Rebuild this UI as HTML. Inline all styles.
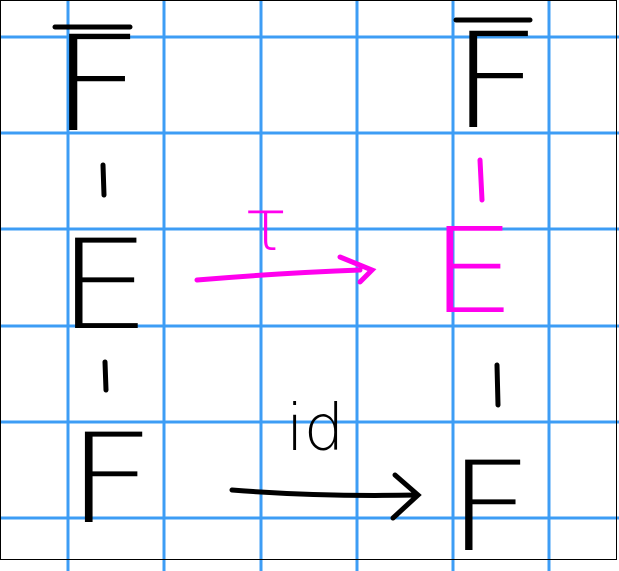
<!DOCTYPE html>
<html><head><meta charset="utf-8"><style>
html,body{margin:0;padding:0;background:#fff;}
svg{display:block;}
text{font-family:"DejaVu Sans ExtraLight","DejaVu Sans","Liberation Sans",sans-serif;font-weight:200;}
</style></head><body>
<svg width="619" height="571" viewBox="0 0 619 571">
<g stroke="#3d9df5" stroke-width="3">
<line x1="68" y1="0" x2="68" y2="571"/><line x1="164" y1="0" x2="164" y2="571"/>
<line x1="261" y1="0" x2="261" y2="571"/><line x1="357" y1="0" x2="357" y2="571"/>
<line x1="453" y1="0" x2="453" y2="571"/><line x1="549" y1="0" x2="549" y2="571"/>
<line x1="0" y1="37" x2="619" y2="37"/><line x1="0" y1="133" x2="619" y2="133"/>
<line x1="0" y1="229" x2="619" y2="229"/><line x1="0" y1="326" x2="619" y2="326"/>
<line x1="0" y1="422" x2="619" y2="422"/><line x1="0" y1="518" x2="619" y2="518"/>
</g>
<rect x="0.5" y="0.5" width="616" height="559" fill="none" stroke="#000" stroke-width="1"/>
<g stroke="#000" stroke-width="5" stroke-linecap="round" fill="none">
<line x1="55" y1="27" x2="130" y2="27"/>
<line x1="456" y1="20" x2="530" y2="20"/>
<line x1="103" y1="165" x2="104" y2="195"/>
<line x1="105" y1="362" x2="106" y2="390"/>
<line x1="497" y1="365" x2="498" y2="405"/>
<path d="M232 490 Q320 497 418 495 M395 475 L418 495 L393 518"/>
</g>
<g stroke="#ff00ee" stroke-width="5" stroke-linecap="round" fill="none">
<line x1="480" y1="160" x2="482" y2="200"/>
<path d="M197 280 Q280 273 360 270 M340 257 L372 270 L360 282"/>
</g>
<text transform="translate(49,130) scale(1.25,1)" x="0" y="0" font-size="132" fill="#000">F</text>
<text transform="translate(57,328) scale(1.2,1)" x="0" y="0" font-size="124" fill="#000">E</text>
<text transform="translate(66,522) scale(1.25,1)" x="0" y="0" font-size="124" fill="#000">F</text>
<text transform="translate(450,127) scale(1.2,1)" x="0" y="0" font-size="132" fill="#000">F</text>
<text transform="translate(430,312) scale(1.15,1)" x="0" y="0" font-size="118" fill="#ff00ee">E</text>
<text transform="translate(447,550) scale(1.2,1)" x="0" y="0" font-size="124" fill="#000">F</text>
<text x="244" y="250" font-size="72" fill="#ff00ee">τ</text>
<text x="286" y="450" font-size="64" fill="#000">id</text>
</svg>
</body></html>
